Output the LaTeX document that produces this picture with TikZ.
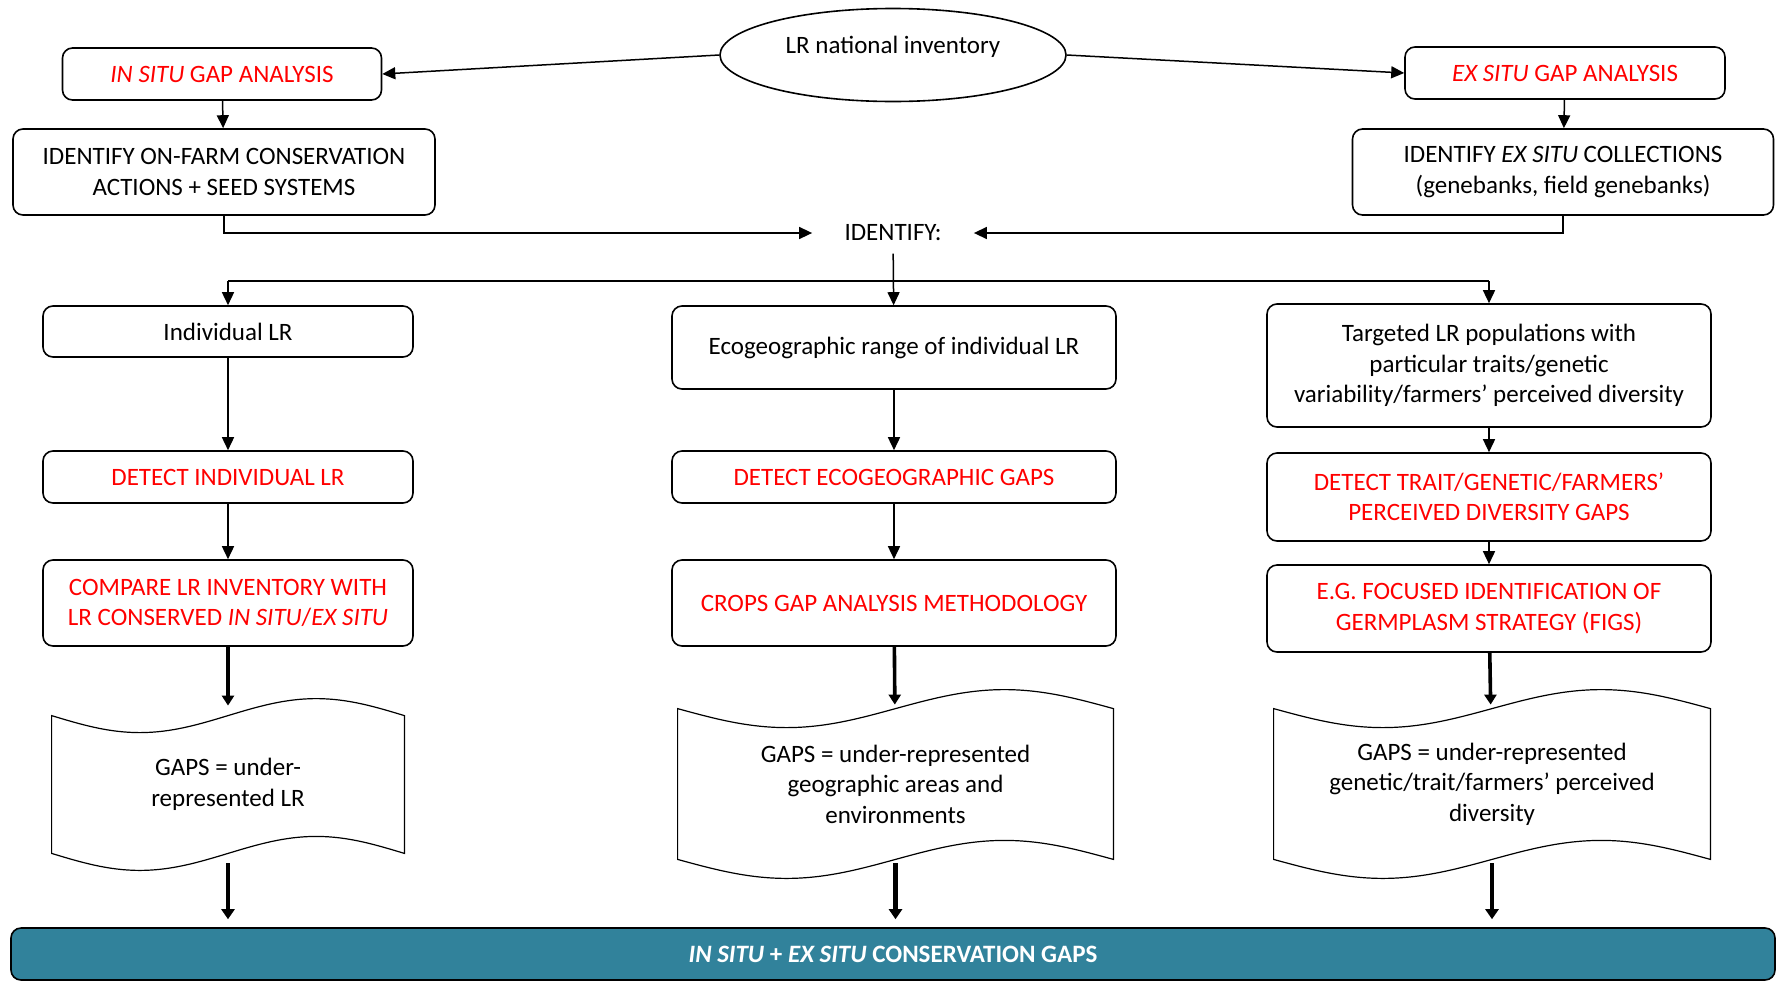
\documentclass[tikz,border=0pt]{standalone}
\usepackage{fontspec}
\setmainfont{Carlito}
\usepackage{xcolor}
\usetikzlibrary{shapes.geometric, arrows.meta, positioning, calc}

\definecolor{barteal}{RGB}{49,130,155}
\newcommand{\boxfont}{\fontsize{12.5pt}{15.25pt}\selectfont}

% punched-tape outline around a (borderless) node
\newcommand{\tapeshape}[2]{%
  \draw[tape]
    (#1.north west)
      sin ($(#1.north west)!0.25!(#1.north east)+(0,-#2)$)
      cos ($(#1.north west)!0.5!(#1.north east)$)
      sin ($(#1.north west)!0.75!(#1.north east)+(0,#2)$)
      cos (#1.north east)
    -- (#1.south east)
      sin ($(#1.south west)!0.75!(#1.south east)+(0,#2)$)
      cos ($(#1.south west)!0.5!(#1.south east)$)
      sin ($(#1.south west)!0.25!(#1.south east)+(0,-#2)$)
      cos (#1.south west)
    -- cycle;}

\begin{document}
\begin{tikzpicture}[x=0.5pt, y=-0.5pt,
  box/.style  = {rectangle, draw=black, line width=0.8pt, rounded corners=5pt,
                 font=\boxfont, align=center, inner sep=2pt},
  hot/.style  = {box, text=red},
  ell/.style  = {ellipse, draw=black, line width=0.8pt, font=\boxfont,
                 minimum width=173pt, minimum height=46.5pt, text depth=10.5pt},
  gap/.style  = {rectangle, draw=none, font=\boxfont, align=center, inner sep=2pt},
  tape/.style = {line width=0.6pt, black},
  bar/.style  = {rectangle, draw=black, line width=0.8pt, rounded corners=5pt,
                 fill=barteal, text=white, font=\boxfont\bfseries},
  arr/.style  = {-{Triangle[length=6.5pt, width=6pt]}, line width=0.75pt},
  line/.style = {line width=0.75pt},
  fat/.style  = {-{Triangle[length=5pt, width=6pt]}, line width=1.8pt},
  fatter/.style = {-{Triangle[length=5pt, width=6.5pt]}, line width=2.2pt},
]
  \useasboundingbox (0,0) rectangle (1776,980);

  \node[ell] (inv) at (893,55) {LR national inventory};
  \node[hot, minimum width=159.5pt, minimum height=26pt] (insitu) at (222,74) {\textit{IN SITU} GAP ANALYSIS};
  \node[hot, minimum width=160pt, minimum height=26pt] (exsitu) at (1565,73) {\textit{EX SITU} GAP ANALYSIS};
  \node[box, minimum width=211pt, minimum height=43pt] (onfarm) at (224,172) {IDENTIFY ON-FARM CONSERVATION\\ACTIONS + SEED SYSTEMS};
  \node[box, minimum width=210.5pt, minimum height=43pt] (excoll) at (1563,172) {IDENTIFY \textit{EX SITU} COLLECTIONS\\(genebanks, field genebanks)};
  \node[font=\boxfont, inner xsep=16pt, inner ysep=6pt] (ident) at (893,233) {IDENTIFY:};
  \coordinate (split) at (893,281);

  \node[box, minimum width=185pt, minimum height=25.5pt] (indiv) at (228,331.5) {Individual LR};
  \node[hot, minimum width=185pt, minimum height=26pt] (detind) at (228,477) {DETECT INDIVIDUAL LR};
  \node[hot, minimum width=185pt, minimum height=43pt] (compare) at (228,603) {COMPARE LR INVENTORY WITH\\LR CONSERVED \textit{IN SITU}/\textit{EX SITU}};
  \node[gap, minimum width=176pt, minimum height=68.5pt] (gaps1) at (228,784.5) {GAPS = under-\\represented LR};

  \node[box, minimum width=222pt, minimum height=41.5pt] (eco) at (894,347.5) {Ecogeographic range of individual LR};
  \node[hot, minimum width=222pt, minimum height=26pt] (deteco) at (894,477) {DETECT ECOGEOGRAPHIC GAPS};
  \node[hot, minimum width=222pt, minimum height=43pt] (crops) at (894,603) {CROPS GAP ANALYSIS METHODOLOGY};
  \node[gap, minimum width=217.5pt, minimum height=75pt] (gaps2) at (895.5,784) {GAPS = under-represented\\geographic areas and\\environments};

  \node[box, minimum width=222pt, minimum height=61.5pt] (target) at (1489,365.5) {Targeted LR populations with\\particular traits/genetic\\variability/farmers’ perceived diversity};
  \node[hot, minimum width=222pt, minimum height=44pt] (dettrait) at (1489,497) {DETECT TRAIT/GENETIC/FARMERS’\\PERCEIVED DIVERSITY GAPS};
  \node[hot, minimum width=222pt, minimum height=43.5pt] (eg) at (1489,608.5) {E.G. FOCUSED IDENTIFICATION OF\\GERMPLASM STRATEGY (FIGS)};
  \node[gap, minimum width=218pt, minimum height=75pt] (gaps3) at (1492,784) {GAPS = under-represented\\genetic/trait/farmers’ perceived\\diversity};

  \node[bar, minimum width=882pt, minimum height=26pt] (allgaps) at (893,954) {\textit{IN SITU} + \textit{EX SITU} CONSERVATION GAPS};

  \tapeshape{gaps1}{8.5pt}
  \tapeshape{gaps2}{9.5pt}
  \tapeshape{gaps3}{9.5pt}

  \draw[arr] (inv.west) -- (insitu.east);
  \draw[arr] (inv.east) -- (exsitu.west);
  \draw[arr] (insitu) -- (onfarm);
  \draw[arr] (exsitu) -- (excoll);
  \draw[arr] (onfarm.south) |- (ident.west);
  \draw[arr] (excoll.south) |- (ident.east);
  \draw[arr] (ident) -- (eco);
  \draw[line] (split -| indiv) -- (split -| target);
  \draw[arr] (split -| indiv) -- (indiv);
  \draw[arr] (split -| target) -- (target);

  \draw[arr] (indiv) -- (detind);
  \draw[arr] (detind) -- (compare);
  \draw[arr] (eco) -- (deteco);
  \draw[arr] (deteco) -- (crops);
  \draw[arr] (target) -- (dettrait);
  \draw[arr] (dettrait) -- (eg);

  \draw[fat, shorten >=5pt] (compare) -- (gaps1);
  \draw[fat, shorten >=2pt] (crops) -- (gaps2);
  \draw[fat, shorten >=2pt] (eg) -- (gaps3);
  \draw[fatter, shorten <=5pt, shorten >=4pt] (gaps1.south) -- (gaps1.south |- allgaps.north);
  \draw[fatter, shorten <=2pt, shorten >=4pt] (gaps2.south) -- (gaps2.south |- allgaps.north);
  \draw[fatter, shorten <=2pt, shorten >=4pt] (gaps3.south) -- (gaps3.south |- allgaps.north);
\end{tikzpicture}
\end{document}
